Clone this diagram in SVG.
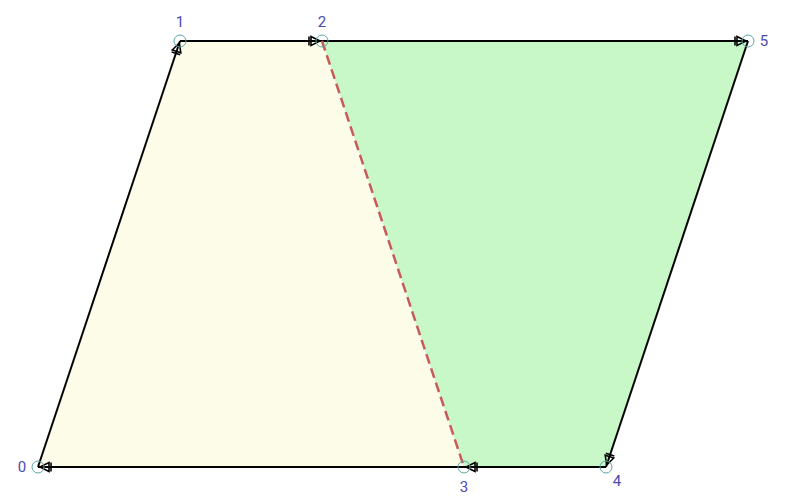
<svg xmlns="http://www.w3.org/2000/svg" width="800" height="499" viewBox="0 0 800 499">
<style>
.lbl{font-family:Roboto,"Liberation Sans",sans-serif;font-size:15px;fill:#4a4ab0;text-anchor:middle}
.edge{stroke:#000;stroke-width:2;fill:none;marker-end:url(#arr)}
.pt{fill:none;stroke:#5aa5a5;stroke-width:1}
</style>
<defs>
<marker id="arr" viewBox="-14 -7 16 14" refX="0" refY="0" markerWidth="16" markerHeight="14" markerUnits="userSpaceOnUse" orient="auto">
<path d="M-11,-4.5 L-2,0 L-11,4.5 Z" fill="none" stroke="#000" stroke-width="1.6"/>
<path d="M-13,-4.5 L-13,4.5" stroke="#000" stroke-width="1.6"/>
</marker>
</defs>
<g id="face-left"><polygon points="38,467 180,41 322,41 464,467" fill="#fdfce9"/></g>
<g id="face-right"><polygon points="322,41 748,41 606,467 464,467" fill="#c8f7c8"/></g>
<g id="connectors">
<path class="edge" d="M38,467 L180,41"/>
<path class="edge" d="M180,41 L322,41"/>
<path class="edge" d="M322,41 L748,41"/>
<path class="edge" d="M748,41 L606,467"/>
<path class="edge" d="M606,467 L464,467"/>
<path class="edge" d="M464,467 L38,467"/>
<path d="M322,41 L464,467" stroke="#c85a5a" stroke-width="2.5" stroke-dasharray="10,5" fill="none"/>
</g>
<g id="n0"><circle class="pt" cx="38" cy="467" r="6"/><text class="lbl" x="22" y="472">0</text></g>
<g id="n1"><circle class="pt" cx="180" cy="41" r="6"/><text class="lbl" x="180" y="27">1</text></g>
<g id="n2"><circle class="pt" cx="322" cy="41" r="6"/><text class="lbl" x="322" y="27">2</text></g>
<g id="n3"><circle class="pt" cx="464" cy="467" r="6"/><text class="lbl" x="464" y="492">3</text></g>
<g id="n4"><circle class="pt" cx="606" cy="467" r="6"/><text class="lbl" x="617" y="486">4</text></g>
<g id="n5"><circle class="pt" cx="748" cy="41" r="6"/><text class="lbl" x="764" y="46">5</text></g>
</svg>
